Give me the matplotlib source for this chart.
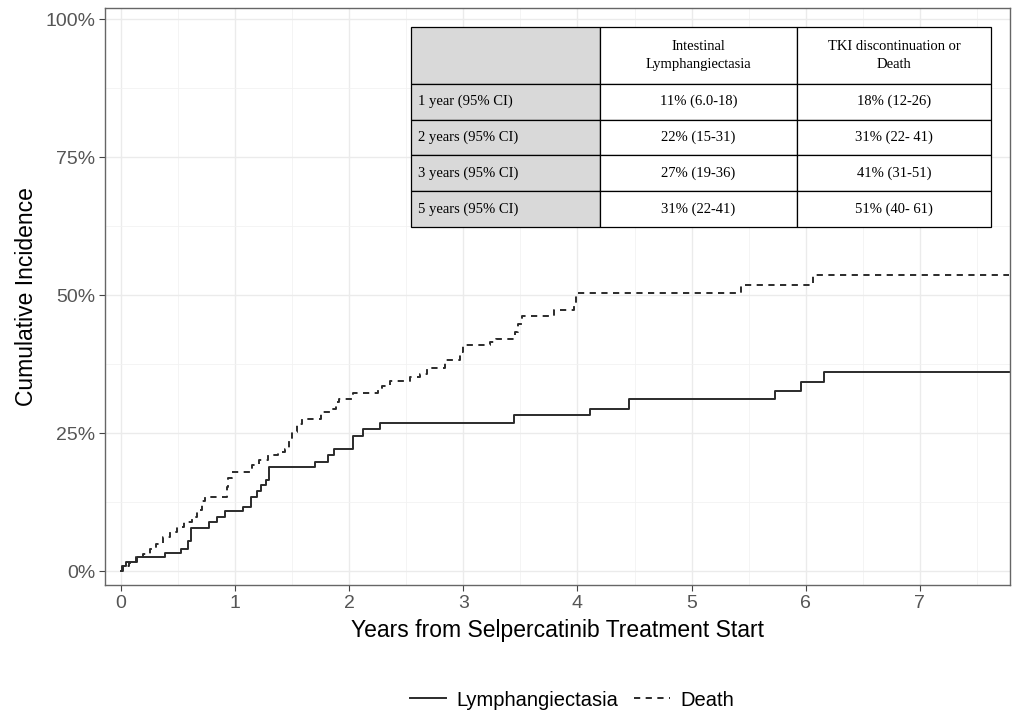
import matplotlib
matplotlib.use("Agg")
import matplotlib.pyplot as plt
import numpy as np
from matplotlib.ticker import MultipleLocator, FuncFormatter

# cumulative incidence step curves (years, fraction)
lymph_t = [0.00, 0.01, 0.04, 0.14, 0.39, 0.53, 0.59, 0.61, 0.77, 0.84, 0.91,
           1.07, 1.14, 1.19, 1.23, 1.27, 1.30, 1.70, 1.81, 1.87, 2.03, 2.12,
           2.27, 3.44, 4.11, 4.45, 5.73, 5.96, 6.16]
lymph_v = [0.000, 0.009, 0.017, 0.026, 0.033, 0.041, 0.055, 0.079, 0.089, 0.098, 0.109,
           0.116, 0.134, 0.146, 0.156, 0.165, 0.189, 0.198, 0.210, 0.222, 0.244, 0.258,
           0.269, 0.283, 0.294, 0.312, 0.327, 0.342, 0.360]

death_t = [0.00, 0.02, 0.07, 0.13, 0.19, 0.25, 0.31, 0.37, 0.43, 0.49, 0.55,
           0.62, 0.67, 0.71, 0.74, 0.93, 0.94, 0.97, 1.15, 1.21, 1.29, 1.38,
           1.44, 1.47, 1.50, 1.54, 1.59, 1.75, 1.85, 1.88, 1.91, 2.03, 2.25,
           2.29, 2.36, 2.53, 2.62, 2.68, 2.84, 2.97, 3.00, 3.23, 3.29, 3.45,
           3.48, 3.51, 3.79, 3.97, 3.99, 5.43, 6.06]
death_v = [0.000, 0.009, 0.014, 0.026, 0.032, 0.041, 0.050, 0.062, 0.071, 0.080, 0.089,
           0.098, 0.110, 0.128, 0.134, 0.153, 0.168, 0.180, 0.192, 0.201, 0.210, 0.216,
           0.222, 0.237, 0.252, 0.267, 0.276, 0.288, 0.294, 0.306, 0.312, 0.322, 0.331,
           0.335, 0.344, 0.351, 0.357, 0.368, 0.382, 0.397, 0.409, 0.415, 0.421, 0.433,
           0.448, 0.463, 0.473, 0.487, 0.503, 0.519, 0.536]
follow_up_end = 7.78

# summary table
col_labels = ["", "Intestinal\nLymphangiectasia", "TKI discontinuation or\nDeath"]
row_labels = ["1 year (95% CI)", "2 years (95% CI)", "3 years (95% CI)", "5 years (95% CI)"]
lymph_ci = ["11% (6.0-18)", "22% (15-31)", "27% (19-36)", "31% (22-41)"]
death_ci = ["18% (12-26)", "31% (22- 41)", "41% (31-51)", "51% (40- 61)"]

plt.rcParams['font.family'] = ['Liberation Sans', 'DejaVu Sans']

fig = plt.figure(figsize=(10.13, 7.15), dpi=100)
ax = fig.add_axes([105/1013, 1 - 585/715, 905/1013, 577/715])

line_col = '#2b2b2b'
ax.step(lymph_t + [follow_up_end], lymph_v + [lymph_v[-1]], where='post',
        color=line_col, lw=1.4, label='Lymphangiectasia')
ax.step(death_t + [follow_up_end], death_v + [death_v[-1]], where='post',
        color=line_col, lw=1.4, linestyle=(0, (3.2, 2.8)), label='Death')

ax.set_xlim(-0.14, 7.79)
ax.set_ylim(-0.025, 1.02)
ax.xaxis.set_major_locator(MultipleLocator(1))
ax.xaxis.set_minor_locator(MultipleLocator(0.5))
ax.yaxis.set_major_locator(MultipleLocator(0.25))
ax.yaxis.set_minor_locator(MultipleLocator(0.125))
ax.yaxis.set_major_formatter(FuncFormatter(lambda v, p: f"{v*100:.0f}%"))

ax.grid(which='major', color='#ebebeb', lw=1.0)
ax.grid(which='minor', color='#f2f2f2', lw=0.6)
ax.set_axisbelow(True)
ax.tick_params(which='major', length=4, color='#444444', labelcolor='#555555',
               labelsize=14, pad=3)
ax.tick_params(which='minor', length=0)
for s in ax.spines.values():
    s.set_color('#666666')
    s.set_linewidth(1.0)

ax.set_xlabel("Years from Selpercatinib Treatment Start", fontsize=16.5, labelpad=5)
ax.set_ylabel("Cumulative Incidence", fontsize=16.5, labelpad=5)

# table in the upper right
cell_text = [[r, a, b] for r, a, b in zip(row_labels, lymph_ci, death_ci)]
tbl = ax.table(cellText=cell_text, colLabels=col_labels,
               colWidths=[189, 197, 194],
               bbox=[(411-105)/905, (585-227)/577, (991-411)/905, 200/577])
tbl.set_zorder(5)
tbl.auto_set_font_size(False)
total_h = 57 + 4*36
for (r, c), cell in tbl.get_celld().items():
    cell.set_edgecolor('black')
    cell.set_linewidth(0.9)
    txt = cell.get_text()
    txt.set_fontfamily('Liberation Serif')
    txt.set_fontsize(10.5)
    cell.set_height((57 if r == 0 else 36) / total_h * 200/577)
    if r == 0:
        txt.set_linespacing(1.5)
    if c == 0:
        cell.set_facecolor('#d9d9d9')
        if r > 0:
            txt.set_ha('left')
            cell.PAD = 0.035
    else:
        cell.set_facecolor('white')
        txt.set_ha('center')

ax.legend(loc='center', bbox_to_anchor=((572-105)/905, (585-700)/577), ncol=2,
          frameon=False, fontsize=14.5, handlelength=1.8, columnspacing=0.8,
          handletextpad=0.5)

plt.savefig('out.png', dpi=100)
plt.close()
